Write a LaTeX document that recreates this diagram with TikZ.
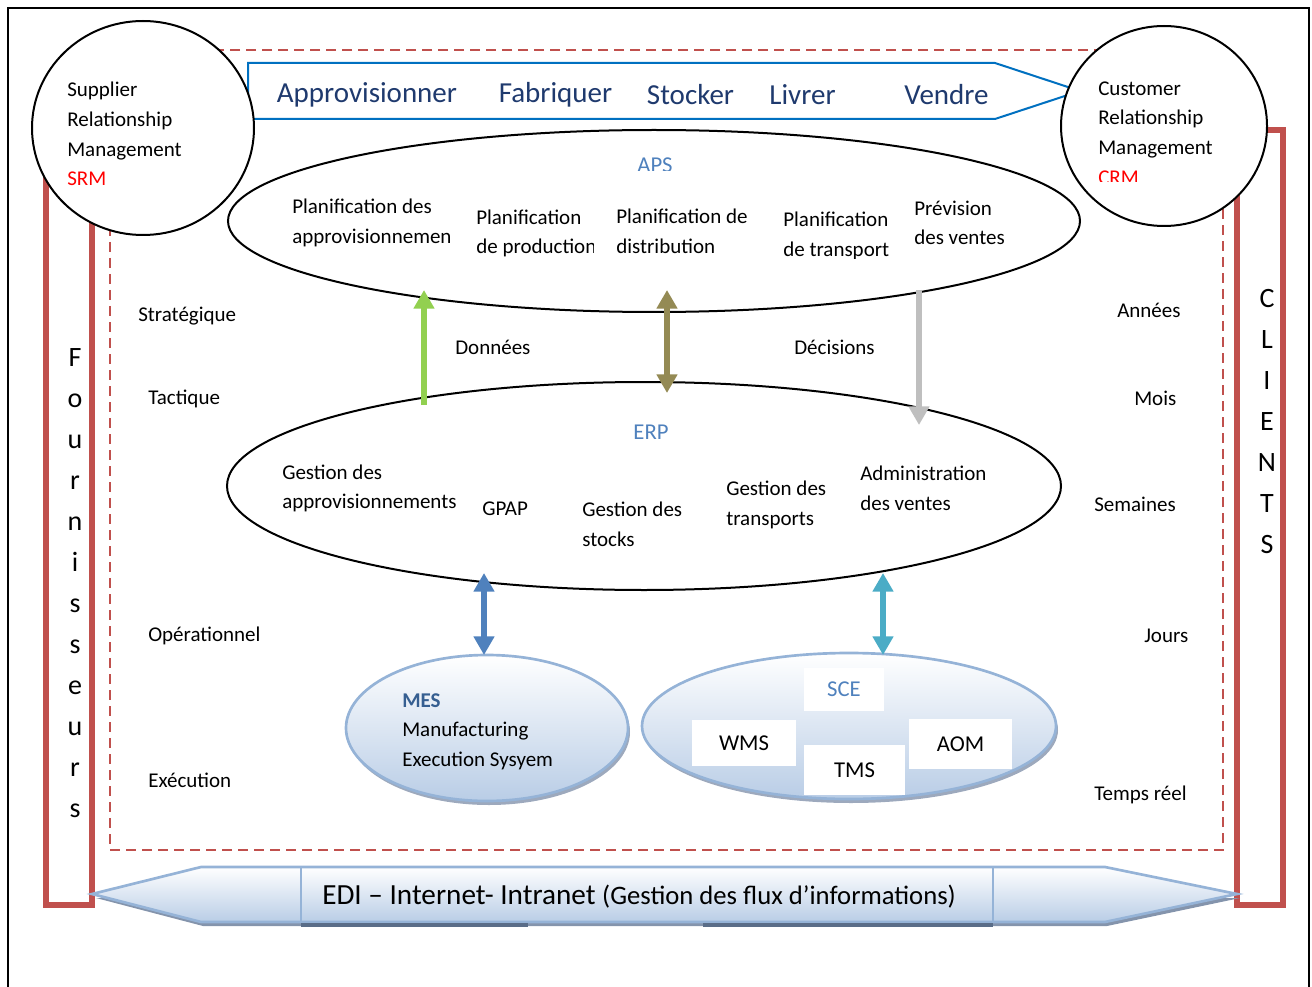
\documentclass[tikz,border=0pt]{standalone}
\usepackage{fontspec}
\setmainfont{Carlito}
\usetikzlibrary{shapes.geometric,arrows.meta,shadows}

\definecolor{frameRed}{HTML}{C0504D}
\definecolor{bannerBlue}{HTML}{0070C0}
\definecolor{stageNavy}{HTML}{1F3A6E}
\definecolor{sysBlue}{HTML}{4F81BD}
\definecolor{mesBlue}{HTML}{365F91}
\definecolor{sysBorder}{HTML}{95B3D7}
\definecolor{sysFill}{HTML}{B9CDE6}
\definecolor{dataGreen}{HTML}{92D050}
\definecolor{syncOlive}{HTML}{948A54}
\definecolor{decGrey}{HTML}{BFBFBF}
\definecolor{exeTeal}{HTML}{4BACC6}
\definecolor{shadowBlue}{HTML}{8494AC}
\definecolor{shadowDark}{HTML}{5A6D88}

\tikzset{
  body/.style={font=\fontsize{15.75}{22.2}\selectfont, inner sep=0pt, anchor=west, align=left, yshift=-1.5pt},
  stage/.style={font=\fontsize{21.75}{26}\selectfont, text=stageNavy, inner sep=0pt, yshift=-1.5pt},
  sysname/.style={font=\fontsize{17}{20}\selectfont, text=sysBlue, inner sep=0pt},
  vletters/.style={font=\fontsize{21}{30.75}\selectfont, align=center, inner sep=0pt},
  bigell/.style={ellipse, draw=black, line width=1.5pt, fill=white, inner sep=0pt},
  sysell/.style={ellipse, draw=sysBorder, line width=2pt, top color=white, bottom color=sysFill,
    inner sep=0pt, drop shadow={shadow xshift=1.5pt, shadow yshift=-3pt, fill=shadowBlue, opacity=.8}},
  whitebox/.style={fill=white, inner sep=0pt, font=\fontsize{17}{20}\selectfont},
  bracket/.style={draw=frameRed, line width=4.5pt},
  zone/.style={draw=frameRed, line width=1.8pt, dash pattern=on 7.5pt off 4.5pt},
  uparrow/.style={line width=5pt, -{Triangle[width=15pt,length=14pt]}},
  twoway/.style={line width=5pt, {Triangle[width=15pt,length=14pt]}-{Triangle[width=15pt,length=14pt]}},
}

\begin{document}
\begin{tikzpicture}[x=0.75pt,y=-0.75pt]
\useasboundingbox (0,0) rectangle (1312,987);

% page frame
\draw[line width=1.1pt] (8,995) -- (8,8) -- (1309,8) -- (1309,995);

% dashed enterprise zone
\draw[zone] (110,50) rectangle (1223,850);

% supplier and customer brackets
\draw[bracket] (46,150) rectangle (92,905);
\draw[bracket] (1237,130) rectangle (1283,905);
\node[vletters] (fournisseurs) at (75,583) {F\\o\\u\\r\\n\\i\\s\\s\\e\\u\\r\\s};
\node[vletters] (clients) at (1267,422) {C\\L\\I\\E\\N\\T\\S};

% process chain banner
\draw[bannerBlue, line width=1.5pt, fill=white]
  (248,63) -- (995,63) -- (1080,91) -- (995,119) -- (248,119) -- cycle;
\node[stage] (appro) at (367,93) {Approvisionner};
\node[stage] (fab) at (555.5,93) {Fabriquer};
\node[stage] (stock) at (690.5,93) {Stocker};
\node[stage] (livr) at (802.5,93) {Livrer};
\node[stage] (vend) at (946.5,93) {Vendre};

% SRM / CRM circles
\node[bigell, minimum width=166.5pt, minimum height=160.5pt] (srm) at (143,128) {};
\node[body] (srmtext) at (67,132) {Supplier\\Relationship\\Management\\\textcolor{red}{SRM}};
\node[bigell, minimum width=154.5pt, minimum height=150pt] (crm) at (1164,126) {};
\begin{scope}
  \clip (1090,60) rectangle (1230,182);
  \node[body] (crmtext) at (1098,131) {Customer\\Relationship\\Management\\\textcolor{red}{CRM}};
\end{scope}

% APS
\node[bigell, minimum width=639pt, minimum height=136.5pt] (aps) at (654,221) {};
\begin{scope}
  \clip (600,150) rectangle (720,171);
  \node[sysname] (apslabel) at (655,165) {APS};
\end{scope}
\begin{scope}
  \clip (285,190) rectangle (470,247);
  \node[body] (pappro) at (292,221) {Planification des\\approvisionnemen};
\end{scope}
\begin{scope}
  \clip (470,200) rectangle (593,257);
  \node[body] (pprod) at (476,231.5) {Planification\\de production};
\end{scope}
\node[body] (pdistr) at (616,229.5) {Planification de\\distribution};
\begin{scope}
  \clip (775,200) rectangle (905,259);
  \node[body] (ptrans) at (783,234) {Planification\\de transport};
\end{scope}
\node[body] (prev) at (914,221) {Prévision\\des ventes};

% ERP
\node[bigell, minimum width=625.5pt, minimum height=156pt] (erp) at (644,486) {};
\node[sysname] (erplabel) at (651,432) {ERP};
\node[body] (gappro) at (282,486.5) {Gestion des\\approvisionnements};
\node[body] (gpap) at (482,507) {GPAP};
\node[body] (gstock) at (582,522) {Gestion des\\stocks};
\node[body] (gtrans) at (726,503) {Gestion des\\transports};
\node[body] (adv) at (860,486.5) {Administration\\des ventes};

% MES and SCE
\node[sysell, minimum width=211.5pt, minimum height=109.5pt] (mes) at (487,728) {};
\node[body] (mestext) at (402,729.5) {{\bfseries\color{mesBlue}MES}\\Manufacturing\\Execution Sysyem};
\node[sysell, minimum width=310.5pt, minimum height=109.5pt] (sce) at (849,726) {};
\node[whitebox, text=sysBlue, minimum width=60pt, minimum height=32pt] (scelabel) at (844,689.5) {SCE};
\node[whitebox, minimum width=78pt, minimum height=35pt] (wms) at (744,743) {WMS};
\node[whitebox, minimum width=76pt, minimum height=37.5pt] (tms) at (854.5,770) {TMS};
\node[whitebox, minimum width=77pt, minimum height=37.5pt] (aom) at (960.5,744) {AOM};

% flows between levels
\coordinate (dataTail) at (424,405);
\coordinate (dataTip) at (424,290);
\coordinate (syncTop) at (667,290);
\coordinate (syncBot) at (667,393);
\coordinate (decTail) at (919,290);
\coordinate (decTip) at (919,425);
\coordinate (mesTop) at (484,573);
\coordinate (mesBot) at (484,655);
\coordinate (sceTop) at (883,573);
\coordinate (sceBot) at (883,655);
\draw[uparrow, dataGreen] (dataTail) -- (dataTip);
\draw[twoway, syncOlive] (syncTop) -- (syncBot);
\draw[uparrow, decGrey] (decTail) -- (decTip);
\draw[twoway, sysBlue] (mesTop) -- (mesBot);
\draw[twoway, exeTeal] (sceTop) -- (sceBot);
\node[body] (donnees) at (455,345) {Données};
\node[body] (decisions) at (794,345) {Décisions};

% decision levels and horizons
\node[body] (strat) at (138,314) {Stratégique};
\node[body] (tact) at (148,397) {Tactique};
\node[body] (oper) at (148,634) {Opérationnel};
\node[body] (exec) at (148,778) {Exécution};
\node[body] (annees) at (1117,308) {Années};
\node[body] (mois) at (1134,396) {Mois};
\node[body] (semaines) at (1094,502) {Semaines};
\node[body] (jours) at (1144,634) {Jours};
\node[body] (tempsreel) at (1094,793) {Temps réel};

% information flow band
\fill[shadowBlue] (96,898) -- (203,926) -- (1107,926) -- (1240,898) -- cycle;
\draw[sysBorder, line width=2pt, top color=white, bottom color=sysFill]
  (92,894) -- (201,867) -- (1105,867) -- (1237,894) -- (1105,922) -- (201,922) -- cycle;
\fill[shadowDark] (301,923) rectangle (528,927);
\fill[shadowDark] (703,923) rectangle (993,927);
\draw[sysBorder, line width=1.5pt] (301,867) -- (301,922) (993,867) -- (993,922);
\node[inner sep=0pt, anchor=west] (edi) at (322,897)
  {\fontsize{21.9}{26}\selectfont EDI – Internet- Intranet \fontsize{20}{24}\selectfont(Gestion des flux d’informations)};
\end{tikzpicture}
\end{document}
